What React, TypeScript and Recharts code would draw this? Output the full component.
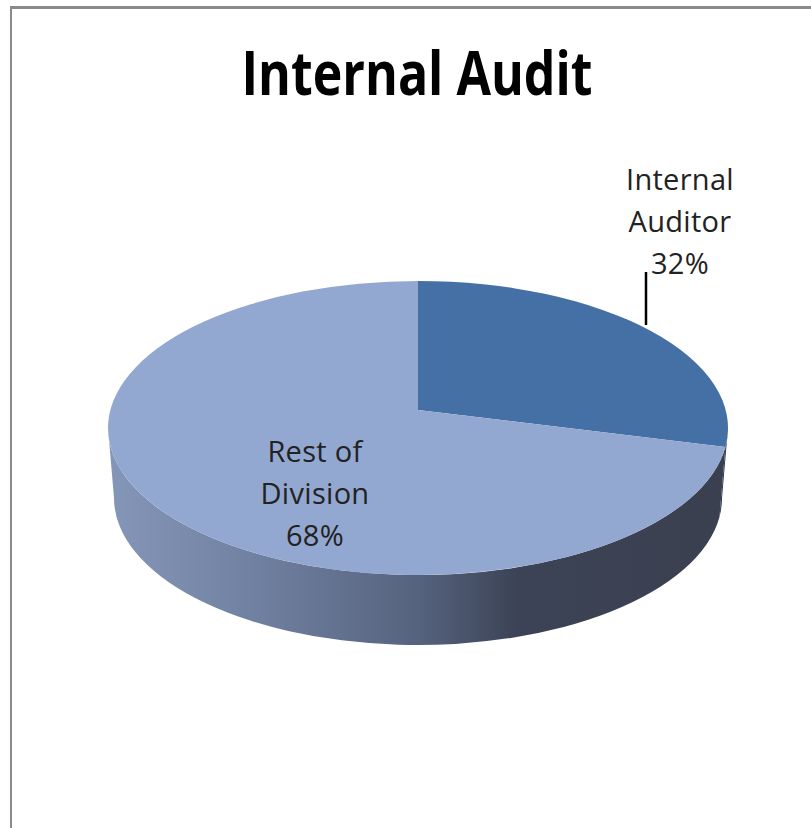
import { PieChart, Pie, Cell } from "recharts";

const categories = ["Internal Auditor", "Rest of Division"];
const shares = [32, 68];
const topColors = ["#4470a6", "#93a8d0"];

const data = categories.map((name, i) => ({ name, value: shares[i] }));

const DEPTH = 70;
const TILT = 147 / 310;
const APEX_LIFT = 18;
const BOTTOM_SHRINK = 6;
const rad = (d: number) => (d * Math.PI) / 180;

// excel's perspective squeezes the far right quarter, angles from 12 o'clock
const warp = (deg: number) => deg - (0.343 * Math.sin(rad(deg)) * 180) / Math.PI;

function rim(cx: number, cy: number, rx: number, ry: number, deg: number) {
  return [cx + rx * Math.sin(rad(deg)), cy - ry * Math.cos(rad(deg))];
}

function Slice3D(props: any) {
  const { cx, cy, outerRadius, startAngle, endAngle, fill, index } = props;
  const rx = outerRadius;
  const ry = outerRadius * TILT;
  const a0 = warp(90 - startAngle);
  const a1 = warp(90 - endAngle);
  const [sx, sy] = rim(cx, cy, rx, ry, a0);
  const [ex, ey] = rim(cx, cy, rx, ry, a1);
  const large = a1 - a0 > 180 ? 1 : 0;
  const top = `M${cx},${cy - APEX_LIFT} L${sx},${sy} A${rx},${ry} 0 ${large} 1 ${ex},${ey} Z`;

  // side wall only where the rim faces the viewer
  const w0 = Math.max(a0, 90);
  const w1 = Math.min(a1, 270);
  let wall = null;
  if (w1 > w0) {
    const rxb = rx - BOTTOM_SHRINK;
    const [tx0, ty0] = rim(cx, cy, rx, ry, w0);
    const [tx1, ty1] = rim(cx, cy, rx, ry, w1);
    const [bx0, by0] = rim(cx, cy + DEPTH, rxb, ry, w0);
    const [bx1, by1] = rim(cx, cy + DEPTH, rxb, ry, w1);
    const d = `M${tx0},${ty0} A${rx},${ry} 0 0 1 ${tx1},${ty1} L${bx1},${by1} A${rxb},${ry} 0 0 0 ${bx0},${by0} Z`;
    wall = <path d={d} fill={index === 0 ? "#24344e" : "url(#wallGrad)"} />;
  }
  return (
    <g>
      {wall}
      <path d={top} fill={fill} />
    </g>
  );
}

function SliceLabel(props: any) {
  const { cx, cy, index, name, value } = props;
  const words = String(name).split(" ");
  const lines = [words.slice(0, -1).join(" "), words[words.length - 1], `${value}%`];
  const x = index === 0 ? cx + 262 : cx - 103;
  const y = index === 0 ? cy - 238 : cy + 34;
  return (
    <g>
      {index === 0 && <line x1={cx + 228} y1={cy - 156} x2={cx + 228} y2={cy - 103} stroke="#000" strokeWidth={2.5} />}
      {lines.map((t, i) => (
        <text key={i} x={x} y={y + i * 42} textAnchor="middle" fontFamily="Open Sans" fontSize={29} letterSpacing={0.3} fill="#222">
          {t}
        </text>
      ))}
    </g>
  );
}

export default function App() {
  return (
    <div style={{ position: "absolute", left: 0, top: 0, width: 811, height: 828, overflow: "hidden", background: "#fff" }}>
      <div style={{ position: "absolute", left: 10, top: 6, right: -4, bottom: -4, borderLeft: "2px solid #8a8a8a", borderTop: "3px solid #8a8a8a" }} />
      <div style={{ position: "absolute", left: 0, top: 0 }}>
        <PieChart width={811} height={828} margin={{ top: 0, right: 0, bottom: 0, left: 0 }}>
          <defs>
            <linearGradient id="wallGrad" gradientUnits="userSpaceOnUse" x1={108} y1={0} x2={727} y2={0}>
              <stop offset="0%" stopColor="#8597b9" />
              <stop offset="25%" stopColor="#6f7f9f" />
              <stop offset="50%" stopColor="#56637e" />
              <stop offset="66%" stopColor="#3c4356" />
              <stop offset="100%" stopColor="#3a404f" />
            </linearGradient>
          </defs>
          <text x={417} y={95} textAnchor="middle" fontFamily="Open Sans" fontWeight={700} fontSize={60} textLength={351} lengthAdjust="spacingAndGlyphs" fill="#000">
            Internal Audit
          </text>
          <Pie
            data={data}
            dataKey="value"
            nameKey="name"
            cx={418}
            cy={428}
            outerRadius={310}
            startAngle={90}
            endAngle={-270}
            stroke="none"
            shape={Slice3D}
            label={SliceLabel}
            labelLine={false}
            isAnimationActive={false}
          >
            {data.map((d, i) => (
              <Cell key={d.name} fill={topColors[i]} />
            ))}
          </Pie>
        </PieChart>
      </div>
    </div>
  );
}
